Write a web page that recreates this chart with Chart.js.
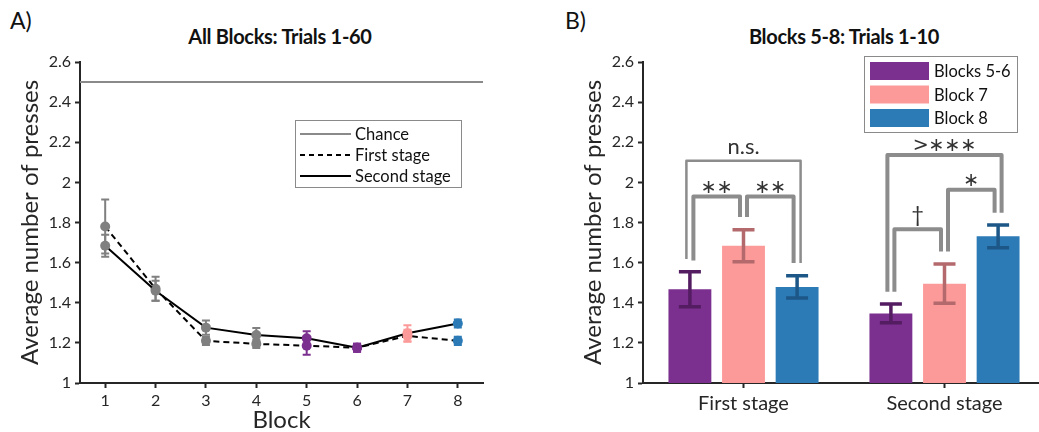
<!DOCTYPE html>
<html lang="en">
<head>
<meta charset="UTF-8">
<title>Average number of presses per block</title>
<script src="https://cdn.jsdelivr.net/npm/chart.js"></script>
<style>
  body { margin: 0; width: 1039px; height: 432px; overflow: hidden; background: #fff; position: relative; font-family: Lato, sans-serif; color: #111; }
  .letter { position: absolute; top: 6px; font-size: 23px; }
  .title { position: absolute; top: 24px; font-size: 20px; font-weight: bold; transform: translateX(-50%); white-space: nowrap; letter-spacing: -0.3px; }
  .box { position: absolute; top: 0; height: 432px; }
</style>
</head>
<body>
<div class="letter" style="left:10px">A)</div>
<div class="title" style="left:280px">All Blocks: Trials 1-60</div>
<div class="letter" style="left:565px">B)</div>
<div class="title" style="left:844px">Blocks 5-8: Trials 1-10</div>

<div class="box" style="left:0; width:520px"><canvas id="lineChart" width="520" height="432"></canvas></div>
<div class="box" style="left:563px; width:500px"><canvas id="barChart" width="500" height="432"></canvas></div>

<script>
// panel A: mean presses per block, both stages
const blocks = [1, 2, 3, 4, 5, 6, 7, 8];
const firstStage = [1.78, 1.47, 1.21, 1.195, 1.186, 1.176, 1.235, 1.21];
const firstStageErr = [0.135, 0.06, 0.02, 0.02, 0.045, 0.02, 0.03, 0.02];
const secondStage = [1.684, 1.46, 1.276, 1.239, 1.223, 1.176, 1.248, 1.297];
const secondStageErr = [0.055, 0.05, 0.035, 0.035, 0.035, 0.02, 0.04, 0.02];
const chanceLevel = 2.5;
const blockRange = [0.5, 8.5];

const yTicks = [1, 1.2, 1.4, 1.6, 1.8, 2, 2.2, 2.4, 2.6];
const yTickLabels = ['1', '1.2', '1.4', '1.6', '1.8', '2', '2.2', '2.4', '2.6'];

// panel B: first 10 trials of blocks 5-8
const stages = ['First stage', 'Second stage'];
const groupNames = ['Blocks 5-6', 'Block 7', 'Block 8'];
const blocks56 = [1.467, 1.347];
const blocks56Err = [0.087, 0.047];
const block7 = [1.684, 1.495];
const block7Err = [0.08, 0.098];
const block8 = [1.479, 1.731];
const block8Err = [0.055, 0.057];

// significance brackets: stage index, bar from/to, bracket top, leg ends
const brackets = [
  { stage: 0, from: 0, to: 2, top: 2.108, ends: [1.618, 1.598], label: 'n.s.', outer: true },
  { stage: 0, from: 0, to: 1, top: 1.929, ends: [1.610, 1.828], label: '∗∗' },
  { stage: 0, from: 1, to: 2, top: 1.929, ends: [1.828, 1.598], label: '∗∗' },
  { stage: 1, from: 0, to: 2, top: 2.137, ends: [1.455, 1.849], label: '>∗∗∗', outer: true },
  { stage: 1, from: 0, to: 1, top: 1.766, ends: [1.455, 1.655], label: '†' },
  { stage: 1, from: 1, to: 2, top: 1.963, ends: [1.655, 1.849], label: '∗' }
];

const GREY = '#808080';
const PURPLE = '#7b2f8f', PINK = '#fb9a99', BLUE = '#2c7bb6';
const PURPLE_DARK = '#541d62', PINK_DARK = '#b46a6d', BLUE_DARK = '#1d5788';
const pointColours = [GREY, GREY, GREY, GREY, PURPLE, PURPLE, PINK, BLUE];
const AXIS = '#262626';

Chart.defaults.font.family = 'Lato, sans-serif';
Chart.defaults.color = AXIS;
Chart.defaults.animation = false;

function valueOf(d) { return typeof d === 'object' ? d.y : d; }

// vertical error bars with caps, read from dataset.errors
const errorBars = {
  id: 'errorBars',
  afterDatasetsDraw(chart, args, opts) {
    const { ctx } = chart;
    const y = chart.scales.y;
    chart.data.datasets.forEach((ds, di) => {
      if (!ds.errors) return;
      chart.getDatasetMeta(di).data.forEach((el, i) => {
        const v = valueOf(ds.data[i]);
        const top = y.getPixelForValue(v + ds.errors[i]);
        const bot = y.getPixelForValue(v - ds.errors[i]);
        ctx.save();
        ctx.strokeStyle = Array.isArray(ds.errorColor) ? ds.errorColor[i] : ds.errorColor;
        ctx.lineWidth = opts.width;
        ctx.beginPath();
        ctx.moveTo(el.x, top); ctx.lineTo(el.x, bot);
        ctx.moveTo(el.x - opts.cap, top); ctx.lineTo(el.x + opts.cap, top);
        ctx.moveTo(el.x - opts.cap, bot); ctx.lineTo(el.x + opts.cap, bot);
        ctx.stroke();
        ctx.restore();
      });
    });
  }
};

// boxed legend drawn inside the plot area
const boxLegend = {
  id: 'boxLegend',
  afterDraw(chart, args, opts) {
    if (!opts.items) return;
    const { ctx, chartArea } = chart;
    const x0 = chartArea.left + opts.left, y0 = chartArea.top + opts.top;
    ctx.save();
    ctx.fillStyle = '#fff';
    ctx.fillRect(x0, y0, opts.width, opts.height);
    ctx.strokeStyle = '#8a8a8a';
    ctx.lineWidth = 1;
    ctx.strokeRect(x0 + 0.5, y0 + 0.5, opts.width, opts.height);
    ctx.font = opts.font;
    ctx.textBaseline = 'middle';
    opts.items.forEach((it, i) => {
      const cy = y0 + opts.firstRow + i * opts.rowGap;
      if (it.swatch) {
        ctx.fillStyle = it.swatch;
        ctx.fillRect(x0 + 6, cy - 9, opts.keyWidth, 18);
      } else {
        ctx.strokeStyle = it.line;
        ctx.lineWidth = 2;
        ctx.setLineDash(it.dash || []);
        ctx.beginPath();
        ctx.moveTo(x0 + 5, cy); ctx.lineTo(x0 + 5 + opts.keyWidth, cy);
        ctx.stroke();
        ctx.setLineDash([]);
      }
      ctx.fillStyle = '#111';
      ctx.fillText(it.text, x0 + opts.keyWidth + opts.textGap, cy + 1);
    });
    ctx.restore();
  }
};

// grey significance brackets above the bars
const sigBrackets = {
  id: 'sigBrackets',
  afterDatasetsDraw(chart, args, opts) {
    if (!opts.list) return;
    const { ctx } = chart;
    const y = chart.scales.y;
    opts.list.forEach(b => {
      const xa = chart.getDatasetMeta(b.from).data[b.stage].x + (b.outer ? -opts.leg : opts.leg);
      const xb = chart.getDatasetMeta(b.to).data[b.stage].x + (b.outer ? opts.leg : -opts.leg);
      const yt = y.getPixelForValue(b.top);
      ctx.save();
      ctx.strokeStyle = '#8c8c8c';
      ctx.lineWidth = b.outer && b.stage === 0 ? 2.5 : 4;
      ctx.lineJoin = 'round';
      ctx.beginPath();
      ctx.moveTo(xa, y.getPixelForValue(b.ends[0]));
      ctx.lineTo(xa, yt);
      ctx.lineTo(xb, yt);
      ctx.lineTo(xb, y.getPixelForValue(b.ends[1]));
      ctx.stroke();
      ctx.fillStyle = '#333';
      ctx.textAlign = 'center';
      ctx.textBaseline = 'alphabetic';
      const stars = b.label.includes('∗');
      ctx.font = stars ? '19px "DejaVu Sans"' : '22px Lato';
      ctx.fillText(b.label, (xa + xb) / 2, yt - (stars ? 4 : 7));
      ctx.restore();
    });
  }
};

function yScale() {
  return {
    min: 1, max: 2.6,
    afterBuildTicks: s => { s.ticks = yTicks.map(v => ({ value: v })); },
    afterFit: s => { s.width = 80; },
    ticks: { callback: (v, i) => yTickLabels[i], font: { size: 16 }, padding: 4, color: AXIS },
    grid: { drawOnChartArea: false, tickLength: 5, color: AXIS, tickWidth: 2 },
    border: { color: AXIS, width: 2 },
    title: { display: true, text: 'Average number of presses', font: { size: 24, lineHeight: 1 }, padding: { top: 18 }, color: AXIS }
  };
}

new Chart(document.getElementById('lineChart'), {
  type: 'line',
  data: {
    datasets: [
      {
        label: 'Second stage',
        data: blocks.map((b, i) => ({ x: b, y: secondStage[i] })),
        errors: secondStageErr, errorColor: pointColours,
        borderColor: '#000', borderWidth: 2,
        pointRadius: 5, pointBorderWidth: 0, pointBackgroundColor: pointColours
      },
      {
        label: 'First stage',
        data: blocks.map((b, i) => ({ x: b, y: firstStage[i] })),
        errors: firstStageErr, errorColor: pointColours,
        borderColor: '#000', borderWidth: 2, borderDash: [6, 4],
        pointRadius: 5, pointBorderWidth: 0, pointBackgroundColor: pointColours
      },
      {
        label: 'Chance',
        data: blockRange.map(x => ({ x, y: chanceLevel })),
        borderColor: '#8a8a8a', borderWidth: 2, pointRadius: 0
      }
    ]
  },
  options: {
    responsive: false,
    layout: { padding: { top: 62, right: 37, left: 0, bottom: 0 } },
    scales: {
      x: {
        type: 'linear', min: blockRange[0], max: blockRange[1],
        afterBuildTicks: s => { s.ticks = blocks.map(v => ({ value: v })); },
        afterFit: s => { s.height = 49; },
        ticks: { font: { size: 16 }, padding: 3, color: AXIS },
        grid: { drawOnChartArea: false, tickLength: 5, color: AXIS, tickWidth: 2 },
        border: { color: AXIS, width: 2 },
        title: { display: true, text: 'Block', font: { size: 24, lineHeight: 1 }, padding: { top: 0, bottom: 0 }, color: AXIS }
      },
      y: yScale()
    },
    plugins: {
      legend: { display: false },
      tooltip: { enabled: false },
      errorBars: { width: 2, cap: 4 },
      boxLegend: {
        left: 215, top: 58, width: 166, height: 67, firstRow: 14, rowGap: 21,
        keyWidth: 51, textGap: 9, font: '16.5px Lato',
        items: [
          { text: 'Chance', line: '#8a8a8a' },
          { text: 'First stage', line: '#000', dash: [5, 4] },
          { text: 'Second stage', line: '#000' }
        ]
      }
    }
  },
  plugins: [errorBars, boxLegend]
});

new Chart(document.getElementById('barChart'), {
  type: 'bar',
  data: {
    labels: stages,
    datasets: [
      { label: groupNames[0], data: blocks56, errors: blocks56Err, errorColor: PURPLE_DARK, backgroundColor: PURPLE },
      { label: groupNames[1], data: block7, errors: block7Err, errorColor: PINK_DARK, backgroundColor: PINK },
      { label: groupNames[2], data: block8, errors: block8Err, errorColor: BLUE_DARK, backgroundColor: BLUE }
    ]
  },
  options: {
    responsive: false,
    layout: { padding: { top: 62, right: 18, left: 0, bottom: 0 } },
    datasets: { bar: { barPercentage: 0.8, categoryPercentage: 0.8 } },
    scales: {
      x: {
        afterFit: s => { s.height = 49; },
        ticks: { font: { size: 20 }, padding: 4, color: AXIS },
        grid: { drawOnChartArea: false, offset: false, tickLength: 5, color: AXIS, tickWidth: 2 },
        border: { color: AXIS, width: 2 }
      },
      y: yScale()
    },
    plugins: {
      legend: { display: false },
      tooltip: { enabled: false },
      errorBars: { width: 3.5, cap: 11 },
      sigBrackets: { list: brackets, leg: 3.5 },
      boxLegend: {
        left: 221, top: -6, width: 153, height: 76, firstRow: 15, rowGap: 23.5,
        keyWidth: 59, textGap: 11, font: '16.5px Lato',
        items: groupNames.map((t, i) => ({ text: t, swatch: [PURPLE, PINK, BLUE][i] }))
      }
    }
  },
  plugins: [errorBars, sigBrackets, boxLegend]
});
</script>
</body>
</html>
